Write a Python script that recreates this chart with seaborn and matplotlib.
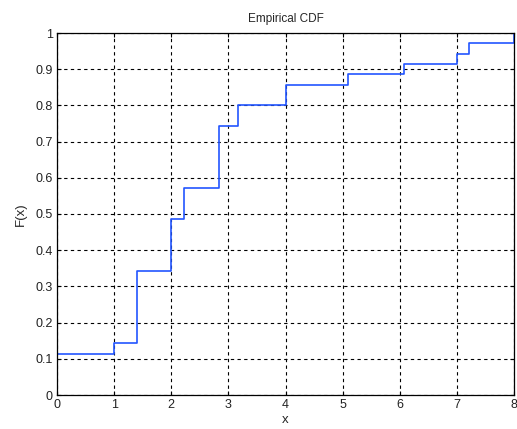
import numpy as np
import pandas as pd
import matplotlib
matplotlib.use("Agg")
import matplotlib.pyplot as plt
import seaborn as sns

# Observed sample values and how often each occurs
values = [0.0, 1.0, 1.4, 2.0, 2.22, 2.83, 3.16, 4.0, 5.09, 6.07, 7.0, 7.22, 8.0]
counts = [4, 1, 7, 5, 3, 6, 2, 2, 1, 1, 1, 1, 1]

x_ticks = [0, 1, 2, 3, 4, 5, 6, 7, 8]
y_ticks = [0, 0.1, 0.2, 0.3, 0.4, 0.5, 0.6, 0.7, 0.8, 0.9, 1]
y_tick_labels = ["0", "0.1", "0.2", "0.3", "0.4", "0.5", "0.6", "0.7", "0.8", "0.9", "1"]

sns.set_style("white")
plt.rcParams["font.family"] = ["Liberation Sans", "DejaVu Sans"]

df = pd.DataFrame({"x": values, "n": counts})

fig = plt.figure(figsize=(5.17, 4.29), dpi=100)
ax = fig.add_axes([57 / 517, 34 / 429, 457 / 517, 362 / 429])

sns.ecdfplot(data=df, x="x", weights="n", ax=ax, color="#2255ff", linewidth=1.2)

ax.set_xlim(0, 8)
ax.set_ylim(0, 1)
ax.set_xticks(x_ticks)
ax.set_xticklabels([str(t) for t in x_ticks])
ax.set_yticks(y_ticks)
ax.set_yticklabels(y_tick_labels)

ax.grid(True, color="black", linestyle=(0, (3, 3)), linewidth=0.8)
ax.set_axisbelow(True)
for s in ax.spines.values():
    s.set_visible(True)
    s.set_color("black")
    s.set_linewidth(0.9)

ax.tick_params(axis="both", direction="in", length=3, labelsize=9, pad=3,
               colors="black", top=True, right=True, bottom=True, left=True)
for lab in ax.get_xticklabels() + ax.get_yticklabels():
    lab.set_color("#222222")

ax.set_title("Empirical CDF", fontsize=8.5, pad=8)
ax.set_xlabel("x", fontsize=9.5, labelpad=2)
ax.set_ylabel("F(x)", fontsize=9.5, labelpad=6)

fig.savefig("out.png", dpi=100)
